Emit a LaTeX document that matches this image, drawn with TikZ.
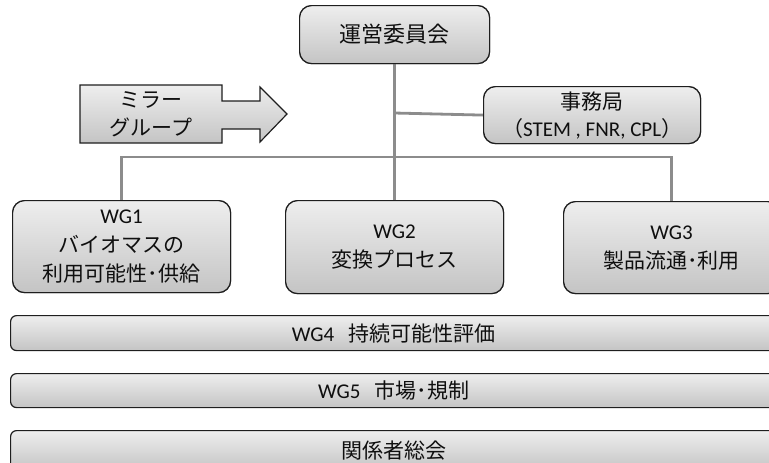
\documentclass[tikz,border=0pt]{standalone}
\usepackage{fontspec}
\setmainfont{Noto Sans CJK JP}
\newfontfamily\lat{Carlito}
\definecolor{topc}{RGB}{238,238,238}
\definecolor{botc}{RGB}{196,196,196}
\definecolor{edgec}{RGB}{30,30,30}
\definecolor{linec}{RGB}{140,140,140}
\definecolor{txtc}{RGB}{15,15,15}
\tikzset{
  gbox/.style={draw=edgec, line width=1.2pt, top color=topc, bottom color=botc,
    rounded corners=12pt, align=center, text=txtc, inner sep=0pt, anchor=north west,
    font=\fontsize{21}{29}\selectfont},
  gbar/.style={draw=edgec, line width=1.2pt, top color=topc, bottom color=botc,
    rounded corners=6pt, text=txtc, inner sep=0pt, anchor=north west,
    font=\fontsize{21}{24}\selectfont},
  conn/.style={draw=linec, line width=2.8pt},
  lbl/.style={align=center, text=txtc, inner sep=0pt, font=\fontsize{21}{28}\selectfont}
}
\begin{document}
\begin{tikzpicture}[x=1pt,y=-1pt]
\useasboundingbox (0,0) rectangle (769,463);
\clip (0,0) rectangle (769,463);
\node[gbox, minimum width=190pt, minimum height=58pt] (top) at (299,5) {\fontsize{22}{26}\selectfont 運営委員会};
\node[gbox, minimum width=217pt, minimum height=57pt, font=\fontsize{21}{27}\selectfont] (sec) at (483,86) {事務局\\（{\lat STEM , FNR, CPL}）};
\node[gbox, minimum width=218pt, minimum height=92pt] (wg1) at (12,200) {{\lat WG1}\\バイオマスの\\利用可能性･供給};
\node[gbox, minimum width=218pt, minimum height=93pt] (wg2) at (285,200) {{\lat WG2}\\変換プロセス};
\node[gbox, minimum width=216pt, minimum height=92pt] (wg3) at (563,201) {{\lat WG3}\\製品流通･利用};
\coordinate (j) at (394,113);
\coordinate (bus) at (394,157);
\draw[conn] (top.south) -- (wg2.north);
\draw[conn] (j) -- (sec.west);
\draw[conn] (wg1.north) |- (bus) -| (wg3.north);
% redraw boxes over connector ends
\node[gbox, minimum width=190pt, minimum height=58pt] at (299,5) {\fontsize{22}{26}\selectfont 運営委員会};
\node[gbox, minimum width=217pt, minimum height=57pt, font=\fontsize{21}{27}\selectfont] at (483,86) {事務局\\（{\lat STEM , FNR, CPL}）};
\node[gbox, minimum width=218pt, minimum height=92pt] at (12,200) {{\lat WG1}\\バイオマスの\\利用可能性･供給};
\node[gbox, minimum width=218pt, minimum height=93pt] at (285,200) {{\lat WG2}\\変換プロセス};
\node[gbox, minimum width=216pt, minimum height=92pt] at (563,201) {{\lat WG3}\\製品流通･利用};
% mirror group arrow
\path[draw=edgec, line width=1.2pt, top color=topc, bottom color=botc]
  (80,85) -- (222,85) -- (222,101) -- (260,101) -- (260,87) -- (287,114)
  -- (260,142) -- (260,129) -- (222,129) -- (222,143) -- (80,143) -- cycle;
\node[lbl] (mir) at (151,114) {ミラー\\グループ};
% bars
\node[gbar, minimum width=766pt, minimum height=35pt] (wg4) at (10,315) {{\lat WG4}\hspace{14pt}持続可能性評価};
\node[gbar, minimum width=766pt, minimum height=34pt] (wg5) at (10,373) {{\lat WG5}\hspace{14pt}市場･規制};
\node[gbar, minimum width=766pt, minimum height=40pt] (gen) at (10,430) {関係者総会};
\end{tikzpicture}
\end{document}
